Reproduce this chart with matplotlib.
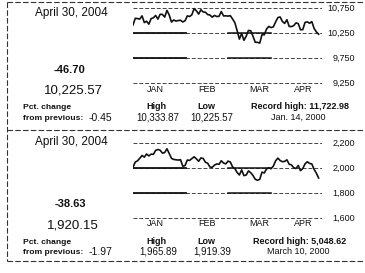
import matplotlib
matplotlib.use("Agg")
import matplotlib.pyplot as plt
import numpy as np

plt.rcParams['font.family'] = ['Liberation Sans', 'DejaVu Sans']

# Daily closes, Jan 2 - Apr 30, 2004
dow = [10409.85, 10544.07, 10538.66, 10529.03, 10592.44, 10458.89, 10485.18, 10427.18,
       10538.37, 10553.85, 10600.51, 10528.66, 10623.62, 10623.18, 10568.29, 10702.51,
       10609.92, 10468.37, 10510.29, 10488.07,
       10499.18, 10505.18, 10470.74, 10495.55, 10593.03, 10579.03, 10613.85, 10737.70,
       10694.07, 10627.85, 10714.88, 10671.99, 10664.73, 10619.03, 10609.62, 10566.37,
       10601.62, 10580.14, 10583.92,
       10678.14, 10591.48, 10593.11, 10588.00, 10595.55, 10529.48, 10456.96, 10296.89,
       10128.38, 10240.08, 10102.89, 10184.67, 10300.30, 10295.78, 10186.60, 10064.75,
       10063.64, 10048.23, 10218.82, 10212.97, 10329.63, 10381.70, 10357.70,
       10373.33, 10470.59, 10558.37, 10570.81, 10480.15, 10442.03, 10515.56, 10381.28,
       10377.95, 10397.46, 10451.97, 10437.85, 10314.50, 10317.27, 10461.20, 10472.84,
       10444.73, 10478.16, 10342.60, 10272.27, 10225.57]
nasdaq = [2006.68, 2047.36, 2057.37, 2077.68, 2100.25, 2086.92, 2111.78, 2096.44,
          2111.13, 2109.08, 2140.46, 2147.98, 2142.45, 2119.01, 2123.87, 2153.83,
          2116.04, 2077.37, 2068.23, 2066.15,
          2063.15, 2066.21, 2014.14, 2019.56, 2064.01, 2060.57, 2075.33, 2089.66,
          2073.61, 2053.56, 2080.35, 2076.47, 2045.96, 2037.93, 2007.52, 2005.44,
          2022.98, 2032.57, 2029.82,
          2057.80, 2039.65, 2033.36, 2055.11, 2047.63, 2008.79, 1995.16, 1964.15,
          1943.89, 1984.73, 1939.20, 1943.09, 1976.76, 1962.44, 1940.47, 1909.90,
          1901.80, 1909.48, 1967.17, 1960.02, 1992.57, 2000.63, 1994.22,
          2015.01, 2057.17, 2079.12, 2059.90, 2050.24, 2052.88, 2065.48, 2030.08,
          2024.85, 2002.17, 1995.74, 2020.43, 1978.63, 1995.63, 2032.91, 2049.77,
          2036.77, 2032.53, 1989.54, 1958.78, 1920.15]

months = ["JAN", "FEB", "MAR", "APR"]
dow_ticks = [10750, 10250, 9750, 9250]
dow_ticklabels = ["10,750", "10,250", "9,750", "9,250"]
nas_ticks = [2200, 2000, 1800, 1600]
nas_ticklabels = ["2,200", "2,000", "1,800", "1,600"]

panels = [
    dict(data=dow, ticks=dow_ticks, labels=dow_ticklabels, ylim=(9210, 10790),
         date="April 30, 2004", change="-46.70", close="10,225.57", pct="-0.45",
         high="10,333.87", low="10,225.57",
         record="Record high: 11,722.98", record_date="Jan. 14, 2000"),
    dict(data=nasdaq, ticks=nas_ticks, labels=nas_ticklabels, ylim=(1584, 2216),
         date="April 30, 2004", change="-38.63", close="1,920.15", pct="-1.97",
         high="1,965.89", low="1,919.39",
         record="Record high: 5,048.62", record_date="March 10, 2000"),
]

W, H = 365, 273
fig = plt.figure(figsize=(W / 100, H / 100), dpi=100)
fig.patch.set_facecolor("white")


def px(x, y):
    return x / W, 1 - y / H


ink = "#111111"
for i, p in enumerate(panels):
    off = i * 134
    top, bot = 6 + i * 135, 85 + i * 135
    ax = fig.add_axes([133 / W, 1 - bot / H, 189 / W, (bot - top) / H])
    n = len(p["data"])
    ax.set_xlim(0, 83.5)
    ax.set_ylim(*p["ylim"])
    for t in p["ticks"]:
        ax.axhline(t, color="#444444", lw=0.7, ls=(0, (4, 2)), zorder=1)
    # darker printed stretches of the middle gridlines
    for t in p["ticks"][1:3]:
        ax.axhline(t, xmin=0, xmax=0.28, color=ink, lw=1.3, zorder=1)
        ax.axhline(t, xmin=0.5, xmax=0.73, color=ink, lw=1.1, zorder=1)
    ax.plot(np.arange(n), p["data"], color=ink, lw=1.2, zorder=3)
    ax.axis("off")

    # y labels
    for t, lab in zip(p["ticks"], p["labels"]):
        yy = (bot - top) * (p["ylim"][1] - t) / (p["ylim"][1] - p["ylim"][0]) + top
        fig.text(*px(355, yy), lab, ha="right", va="center", fontsize=6.5, color=ink)

    # month labels
    for m, xm in zip(months, [155, 207, 259, 303]):
        fig.text(*px(xm, 90 + off), m, ha="center", va="center", fontsize=6.5, color=ink)

    date_y = 13 if i == 0 else 142
    fig.text(*px(71, date_y), p["date"], ha="center", va="center", fontsize=8.5, color=ink)
    fig.text(*px(70, 70 + off), p["change"], ha="center", va="center", fontsize=8,
             fontweight="bold", color=ink)
    fig.text(*px(73, 91 + off), p["close"], ha="center", va="center", fontsize=9.5, color=ink)
    fig.text(*px(23, 108 + off), "Pct. change", ha="left", va="center", fontsize=6.1,
             fontweight="bold", color=ink)
    fig.text(*px(23, 118 + off), "from previous:", ha="left", va="center", fontsize=6.1,
             fontweight="bold", color=ink)
    fig.text(*px(89, 118 + off), p["pct"], ha="left", va="center", fontsize=7.5, color=ink)
    fig.text(*px(156, 107 + off), "High", ha="center", va="center", fontsize=6.5,
             fontweight="bold", color=ink)
    fig.text(*px(158, 117 + off), p["high"], ha="center", va="center", fontsize=7, color=ink)
    fig.text(*px(206, 107 + off), "Low", ha="center", va="center", fontsize=6.5,
             fontweight="bold", color=ink)
    fig.text(*px(212, 117 + off), p["low"], ha="center", va="center", fontsize=7, color=ink)
    fig.text(*px(300, 107 + off), p["record"], ha="center", va="center", fontsize=6.5,
             fontweight="bold", color=ink)
    fig.text(*px(298, 117 + off), p["record_date"], ha="center", va="center", fontsize=6.5,
             color=ink)

# frame lines
for yy in [2, 130, 261]:
    fig.add_artist(plt.Line2D([7 / W, 1], [1 - yy / H] * 2, color="#333333", lw=0.8,
                              ls=(0, (5, 2))))
fig.add_artist(plt.Line2D([7 / W, 7 / W], [1 - 2 / H, 1 - 261 / H], color="#333333", lw=0.8,
                          ls=(0, (5, 2))))

fig.savefig("out.png", dpi=100)
